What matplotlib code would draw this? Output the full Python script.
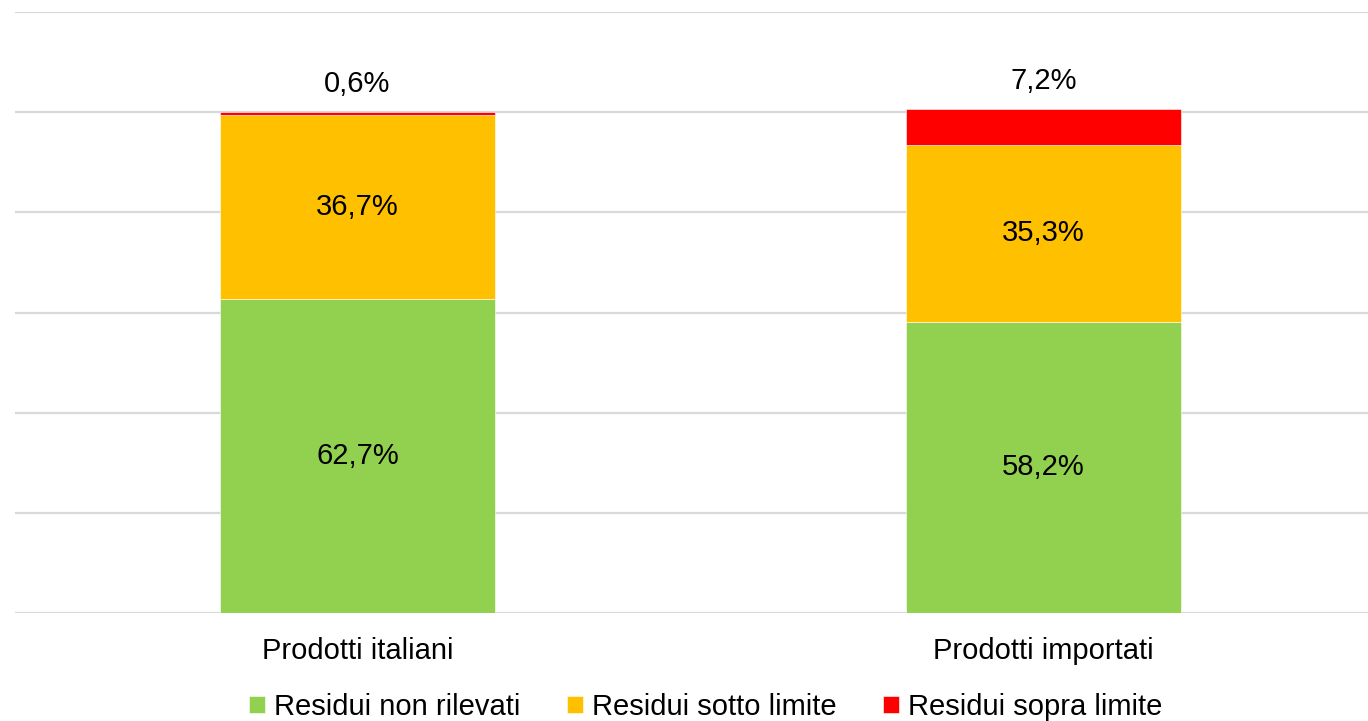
import matplotlib.pyplot as plt
import numpy as np

plt.rcParams['font.family'] = ['Liberation Sans', 'DejaVu Sans']

categories = ["Prodotti italiani", "Prodotti importati"]
series_names = ["Residui non rilevati", "Residui sotto limite", "Residui sopra limite"]
non_rilevati = [62.7, 58.2]
sotto_limite = [36.7, 35.3]
sopra_limite = [0.6, 7.2]
colors = ["#92d050", "#ffc000", "#ff0000"]

fs = 21
fig = plt.figure(figsize=(13.68, 7.21), dpi=100)
ax = fig.add_axes([14.5 / 1368, 108 / 721, 1372 / 1368, 601 / 721])

x = np.arange(len(categories))
width = 0.4
bottom = np.zeros(len(categories))
for name, vals, col in zip(series_names, [non_rilevati, sotto_limite, sopra_limite], colors):
    vals = np.array(vals)
    ax.bar(x, vals, width, bottom=bottom, color=col, label=name,
           edgecolor="white", linewidth=0.4, zorder=3)
    for xi, b, v in zip(x, bottom, vals):
        lbl = f"{v:.1f}%".replace(".", ",")
        if col == "#ff0000":
            ax.annotate(lbl, (xi, b + v), xytext=(0, 20), textcoords="offset points",
                        ha="center", va="center", fontsize=fs)
        else:
            ax.text(xi, b + v / 2, lbl, ha="center", va="center", fontsize=fs, zorder=4)
    bottom += vals

ax.set_xlim(-0.5, 1.5)
ax.set_ylim(0, 120)
ax.set_yticks(np.arange(0, 121, 20))
ax.yaxis.grid(True, color="#d9d9d9", linewidth=1.6, zorder=0)
ax.set_yticklabels([])
ax.tick_params(axis="y", length=0)
ax.set_xticks(x)
ax.set_xticklabels(categories, fontsize=fs)
ax.tick_params(axis="x", length=0, pad=17)
for s in ax.spines.values():
    s.set_visible(False)

fig.legend(*ax.get_legend_handles_labels(), loc="center", bbox_to_anchor=(705.5 / 1368, 1 - 707 / 721),
           ncol=3, frameon=False, fontsize=fs, handlelength=0.55, handleheight=0.5,
           handletextpad=0.3, columnspacing=1.6, borderpad=0, borderaxespad=0)

fig.savefig("out.png", dpi=100)
